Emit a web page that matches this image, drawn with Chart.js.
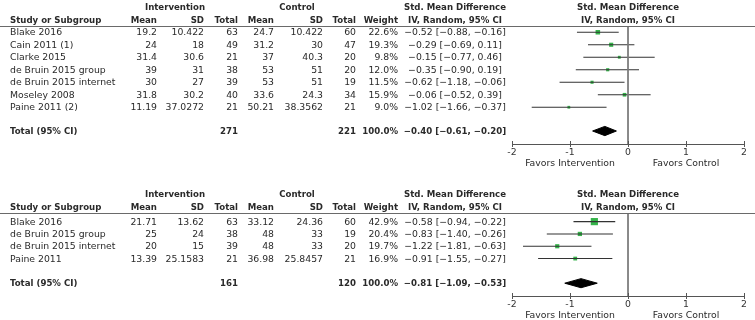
<!DOCTYPE html>
<html><head><meta charset="utf-8">
<script src="https://cdn.jsdelivr.net/npm/chart.js@4.4.1/dist/chart.umd.min.js"></script>
<style>
body{margin:0;background:#fff;}
#wrap{position:relative;width:755px;height:320px;overflow:hidden;font-family:"DejaVu Sans",sans-serif;color:#2a2a2a;}
.t{position:absolute;white-space:nowrap;font-size:9.3px;line-height:12px;}
.b{font-weight:bold;font-size:8.6px;}
.r{transform:translate(-100%,-50%);}
.l{transform:translate(0,-50%);}
.c{transform:translate(-50%,-50%);}
.hl{position:absolute;left:0;width:755px;height:1px;background:#6a6a6a;}
canvas{position:absolute;left:0;}
</style></head><body><div id="wrap"></div>
<script>
// ---------- DATA: panel 1 ----------
const studies1 = ["Blake 2016","Cain 2011 (1)","Clarke 2015","de Bruin 2015 group","de Bruin 2015 internet","Moseley 2008","Paine 2011 (2)"];
const intMean1 = ["19.2","24","31.4","39","30","31.8","11.19"];
const intSD1   = ["10.422","18","30.6","31","27","30.2","37.0272"];
const intN1    = [63,49,21,38,39,40,21];
const ctlMean1 = ["24.7","31.2","37","53","53","33.6","50.21"];
const ctlSD1   = ["10.422","30","40.3","51","51","24.3","38.3562"];
const ctlN1    = [60,47,20,20,19,34,21];
const weight1  = [22.6,19.3,9.8,12.0,11.5,15.9,9.0];
const smd1     = [-0.52,-0.29,-0.15,-0.35,-0.62,-0.06,-1.02];
const lo1      = [-0.88,-0.69,-0.77,-0.90,-1.18,-0.52,-1.66];
const hi1      = [-0.16,0.11,0.46,0.19,-0.06,0.39,-0.37];
const total1   = {intN:271, ctlN:221, weight:100.0, est:-0.40, lo:-0.61, hi:-0.20};

// ---------- DATA: panel 2 ----------
const studies2 = ["Blake 2016","de Bruin 2015 group","de Bruin 2015 internet","Paine 2011"];
const intMean2 = ["21.71","25","20","13.39"];
const intSD2   = ["13.62","24","15","25.1583"];
const intN2    = [63,38,39,21];
const ctlMean2 = ["33.12","48","48","36.98"];
const ctlSD2   = ["24.36","33","33","25.8457"];
const ctlN2    = [60,19,20,21];
const weight2  = [42.9,20.4,19.7,16.9];
const smd2     = [-0.58,-0.83,-1.22,-0.91];
const lo2      = [-0.94,-1.40,-1.81,-1.55];
const hi2      = [-0.22,-0.26,-0.63,-0.27];
const total2   = {intN:161, ctlN:120, weight:100.0, est:-0.81, lo:-1.09, hi:-0.53};

// ---------- axis / labels ----------
const tickValues = [-2,-1,0,1,2];
const tickLabels = ["-2","-1","0","1","2"];
const favorLabels = ["Favors Intervention","Favors Control"];
const favorAt = [-1,1];
const header1 = ["Intervention","Control","Std. Mean Difference"];
const header2 = ["Study or Subgroup","Mean","SD","Total","Mean","SD","Total","Weight","IV, Random, 95% CI"];
const plotHeader = ["Std. Mean Difference","IV, Random, 95% CI"];
const totalLabel = "Total (95% CI)";

// ---------- layout (positions only) ----------
const colX = [10,157,204,238,274,323,356,398,455];
const colAlign = ['l','r','r','r','r','r','r','r','c'];
const groupX = [175,297,455];

const wrap = document.getElementById('wrap');
function txt(s,x,y,align,bold){
  const d=document.createElement('div');
  d.className='t '+align+(bold?' b':'');
  d.textContent=s; d.style.left=x+'px'; d.style.top=y+'px';
  wrap.appendChild(d);
}
const fmt = v => (v<0?'\u2212':'')+Math.abs(v).toFixed(2);
const ci = (e,l,h) => fmt(e)+' ['+fmt(l)+', '+fmt(h)+']';

// small tick marks that also reach above the axis line
const upTicks = {
  id:'upTicks',
  afterDraw(chart){
    const s=chart.scales.x, ctx=chart.ctx, y=chart.chartArea.bottom;
    ctx.save(); ctx.strokeStyle='#555'; ctx.lineWidth=1;
    s.ticks.forEach(t=>{const x=Math.round(s.getPixelForValue(t.value))+0.5;
      ctx.beginPath(); ctx.moveTo(x,y-3); ctx.lineTo(x,y); ctx.stroke();});
    ctx.restore();
  }
};

function buildPanel(p){
  const canvas=document.createElement('canvas');
  canvas.width=755; canvas.height=p.h; canvas.style.top=p.top+'px';
  canvas.style.width='755px'; canvas.style.height=p.h+'px';
  wrap.appendChild(canvas);
  const n=p.studies.length;
  const T=n+p.totalGap;
  const ds=[];
  ds.push({data:[{x:0,y:p.yMin},{x:0,y:p.yMax}],showLine:true,borderColor:'#7a7a7a',borderWidth:1,pointRadius:0});
  p.lo.forEach((l,i)=>ds.push({data:[{x:l,y:i},{x:p.hi[i],y:i}],showLine:true,borderColor:'#333',borderWidth:1.1,pointRadius:0}));
  ds.push({data:p.smd.map((e,i)=>({x:e,y:i})),showLine:false,pointStyle:'rect',
    pointRadius:p.weight.map(w=>(1.6+w*0.13)/Math.SQRT2),pointBackgroundColor:'#35b44a',backgroundColor:'#35b44a',pointBorderWidth:0,borderWidth:0});
  const t=p.total;
  ds.push({data:[{x:t.lo,y:T},{x:t.est,y:T-0.37},{x:t.hi,y:T},{x:t.est,y:T+0.37},{x:t.lo,y:T}],
    showLine:true,fill:'shape',backgroundColor:'#000',borderColor:'#000',borderWidth:1,pointRadius:0,tension:0});
  const chart=new Chart(canvas,{type:'scatter',data:{datasets:ds},plugins:[upTicks],options:{
    responsive:false,animation:false,devicePixelRatio:1,events:[],
    layout:{padding:{left:512,right:11,top:26,bottom:p.padBottom}},
    plugins:{legend:{display:false},tooltip:{enabled:false}},
    scales:{
      x:{type:'linear',min:-2,max:2,
        afterBuildTicks:s=>{s.ticks=tickValues.map(v=>({value:v}));},
        afterFit:s=>{s.height=16;},
        grid:{drawOnChartArea:false,drawTicks:true,tickLength:3,color:'#555'},
        border:{display:true,color:'#555',width:1},
        ticks:{padding:0,maxRotation:0,autoSkip:false,color:'#333',font:{family:'DejaVu Sans',size:9.3},
          callback:(v,i)=>tickLabels[i]}},
      y:{type:'linear',display:false,reverse:true,min:p.yMin,max:p.yMax}
    }}});
  const Y=v=>p.top+chart.scales.y.getPixelForValue(v);
  const X=v=>chart.scales.x.getPixelForValue(v);
  const top=p.top+chart.chartArea.top;
  const bottom=p.top+chart.chartArea.bottom;
  const hl=document.createElement('div'); hl.className='hl'; hl.style.top=top+'px'; wrap.appendChild(hl);
  header1.forEach((h,i)=>txt(h,groupX[i],top-19.5,'c',true));
  header2.forEach((h,i)=>txt(h,colX[i],top-6.5,colAlign[i],true));
  txt(plotHeader[0],X(0),top-19.5,'c',true);
  txt(plotHeader[1],X(0),top-6.5,'c',true);
  p.studies.forEach((s,i)=>{
    const vals=[s,p.intMean[i],p.intSD[i],p.intN[i],p.ctlMean[i],p.ctlSD[i],p.ctlN[i],p.weight[i].toFixed(1)+'%',ci(p.smd[i],p.lo[i],p.hi[i])];
    vals.forEach((v,j)=>txt(String(v),colX[j],Y(i),colAlign[j],false));
  });
  txt(totalLabel,colX[0],Y(T),'l',true);
  txt(String(t.intN),colX[3],Y(T),'r',true);
  txt(String(t.ctlN),colX[6],Y(T),'r',true);
  txt(t.weight.toFixed(1)+'%',colX[7],Y(T),'r',true);
  txt(ci(t.est,t.lo,t.hi),colX[8],Y(T),'c',true);
  favorLabels.forEach((f,i)=>txt(f,X(favorAt[i]),bottom+18.5,'c',false));
}

buildPanel({top:0,h:170,padBottom:10,yMin:-0.5,yMax:8.94,totalGap:0.9,
  studies:studies1,intMean:intMean1,intSD:intSD1,intN:intN1,ctlMean:ctlMean1,ctlSD:ctlSD1,ctlN:ctlN1,
  weight:weight1,smd:smd1,lo:lo1,hi:hi1,total:total1});
buildPanel({top:187,h:133,padBottom:8,yMin:-0.7,yMax:6.04,totalGap:1.0,
  studies:studies2,intMean:intMean2,intSD:intSD2,intN:intN2,ctlMean:ctlMean2,ctlSD:ctlSD2,ctlN:ctlN2,
  weight:weight2,smd:smd2,lo:lo2,hi:hi2,total:total2});
</script></body></html>
